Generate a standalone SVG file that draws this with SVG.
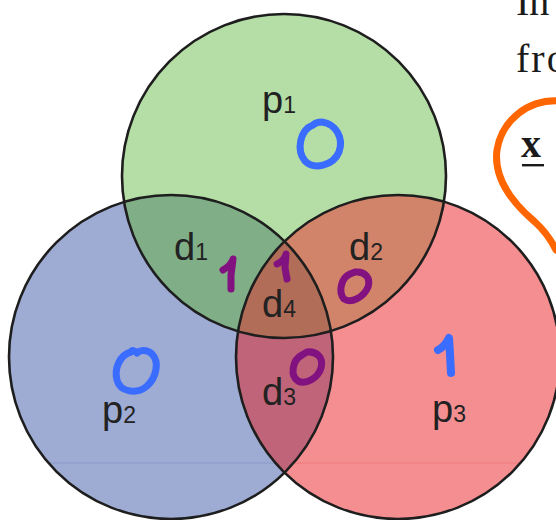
<svg xmlns="http://www.w3.org/2000/svg" width="556" height="520" viewBox="0 0 556 520">
  <defs>
    <clipPath id="cGreen"><circle cx="284" cy="176" r="162"/></clipPath>
    <clipPath id="cBlue"><circle cx="171" cy="357" r="162"/></clipPath>
    <clipPath id="cRed"><circle cx="398" cy="357" r="162"/></clipPath>
    <style>
      .edge { fill: none; stroke: #1e1e1e; stroke-width: 2.6; }
      .lbl { font-family: "Liberation Sans", Arial, sans-serif; font-size: 38px; fill: #222; }
      .sub { font-size: 23px; }
      .ink-blue { fill: none; stroke: #3a6cff; stroke-width: 7; stroke-linecap: round; stroke-linejoin: round; }
      .ink-purple { fill: none; stroke: #82127f; stroke-width: 7; stroke-linecap: round; stroke-linejoin: round; }
      .serif { font-family: "Liberation Serif", "Times New Roman", serif; font-size: 40px; fill: #1a1a1a; }
    </style>
  </defs>

  <rect width="556" height="520" fill="#ffffff"/>

  <!-- set fills -->
  <g id="set-p2"><circle cx="171" cy="357" r="162" fill="#9eabd3"/></g>
  <g id="set-p3"><circle cx="398" cy="357" r="162" fill="#f58e90"/></g>
  <g id="set-p1"><circle cx="284" cy="176" r="162" fill="#b5dea6"/></g>

  <!-- faint scan lines -->
  <g clip-path="url(#cBlue)"><rect x="0" y="462.5" width="556" height="1" fill="#8695c4" opacity="0.7"/></g>
  <g clip-path="url(#cRed)"><rect x="0" y="462.5" width="556" height="1" fill="#ec7478" opacity="0.7"/></g>

  <!-- pairwise overlaps -->
  <g id="region-d1" clip-path="url(#cGreen)"><circle cx="171" cy="357" r="162" fill="#7fae87"/></g>
  <g id="region-d2" clip-path="url(#cGreen)"><circle cx="398" cy="357" r="162" fill="#d2846a"/></g>
  <g id="region-d3" clip-path="url(#cBlue)"><circle cx="398" cy="357" r="162" fill="#c0647a"/></g>
  <!-- triple overlap -->
  <g id="region-d4" clip-path="url(#cGreen)">
    <g clip-path="url(#cBlue)"><circle cx="398" cy="357" r="162" fill="#b16d58"/></g>
  </g>

  <!-- outlines -->
  <g id="outlines">
    <circle class="edge" cx="171" cy="357" r="162"/>
    <circle class="edge" cx="398" cy="357" r="162"/>
    <circle class="edge" cx="284" cy="176" r="162"/>
  </g>

  <!-- labels -->
  <g id="labels">
    <text class="lbl" x="262" y="113">p<tspan class="sub">1</tspan></text>
    <text class="lbl" x="174" y="260">d<tspan class="sub">1</tspan></text>
    <text class="lbl" x="349" y="260">d<tspan class="sub">2</tspan></text>
    <text class="lbl" x="262" y="317">d<tspan class="sub">4</tspan></text>
    <text class="lbl" x="262" y="405">d<tspan class="sub">3</tspan></text>
    <text class="lbl" x="102" y="423">p<tspan class="sub">2</tspan></text>
    <text class="lbl" x="432" y="422">p<tspan class="sub">3</tspan></text>
  </g>

  <!-- handwritten bits -->
  <g id="marks">
    <path class="ink-blue" d="M313 125 C300 130 296 150 305 161 C314 170 333 166 339 152 C344 138 336 124 322 122 C318 122 315 123 313 125"/>
    <path class="ink-blue" d="M131 352 C120 355 114 368 117 380 C120 392 137 395 147 386 C156 378 160 362 152 354 C147 349 140 350 137 353 C135 350 132 350 131 352"/>
    <path class="ink-blue" style="stroke-width:8" d="M438 350 C442 348 446 344 449 338 L450 354 L451 373"/>
    <path class="ink-purple" d="M223 270 C228 267 232 263 233 259 L231 275 L231 289"/>
    <path class="ink-purple" d="M277 264 C282 262 285 258 286 254 L285 268 L287 279"/>
    <path class="ink-purple" d="M350 274 C341 278 338 292 344 299 C351 304 364 297 368 287 C371 278 365 271 355 272 Z"/>
    <path class="ink-purple" d="M302 355 C292 360 290 376 298 381 C306 385 318 378 321 368 C324 357 316 351 307 352 Z"/>
  </g>

  <!-- text running off the right edge -->
  <g id="side-text">
    <text class="serif" x="516" y="15">In</text>
    <text class="serif" x="516" y="72" letter-spacing="2">fro</text>
    <path d="M560 101 C528 99 502 120 497 150 C493 180 515 205 535 222 C545 231 551 240 556 250" fill="none" stroke="#ff6600" stroke-width="7" stroke-linecap="round"/>
    <text class="serif" x="521" y="157" font-weight="bold">x</text>
    <rect x="522" y="164" width="22" height="2.4" fill="#1a1a1a"/>
  </g>
</svg>
